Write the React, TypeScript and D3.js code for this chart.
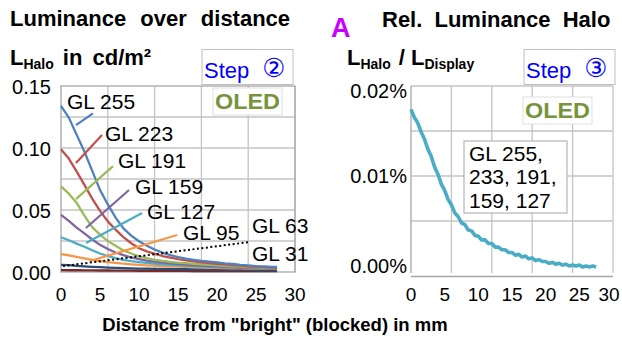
import { useRef, useEffect } from "react";
import * as d3 from "d3";

// distance in mm (left chart sampled every mm, right chart every 0.5 mm)
const distLeft = [0, 1, 2, 3, 4, 5, 6, 7, 8, 9, 10, 11, 12, 13, 14, 15, 16, 17, 18, 19, 20, 21, 22, 23, 24, 25, 26, 27, 27.7];

const gl255 = [0.134, 0.1245, 0.1108, 0.0972, 0.0815, 0.0662, 0.0545, 0.0438, 0.0352, 0.0293, 0.0248, 0.0212, 0.0181, 0.0156, 0.0136, 0.0121, 0.0107, 0.0098, 0.0089, 0.0083, 0.0077, 0.0069, 0.0065, 0.0058, 0.0054, 0.0048, 0.0046, 0.0042, 0.0041];
const gl223 = [0.099, 0.0915, 0.0812, 0.0703, 0.0592, 0.0493, 0.0408, 0.0342, 0.0281, 0.0232, 0.0192, 0.0166, 0.0146, 0.0129, 0.0116, 0.0103, 0.0094, 0.0085, 0.0078, 0.0071, 0.0066, 0.0061, 0.0055, 0.0051, 0.0046, 0.0043, 0.0039, 0.0036, 0.0035];
const gl191 = [0.069, 0.0632, 0.0558, 0.0455, 0.0362, 0.0301, 0.0249, 0.0212, 0.0174, 0.0149, 0.0126, 0.0111, 0.0098, 0.0089, 0.0082, 0.0075, 0.0071, 0.0065, 0.0062, 0.0057, 0.0054, 0.0049, 0.0046, 0.0043, 0.004, 0.0037, 0.0034, 0.0032, 0.0031];
const gl159 = [0.046, 0.0412, 0.0358, 0.0311, 0.0262, 0.0219, 0.0186, 0.0157, 0.0136, 0.0117, 0.0104, 0.0092, 0.0083, 0.0076, 0.007, 0.0065, 0.006, 0.0056, 0.0052, 0.0048, 0.0045, 0.0042, 0.0039, 0.0036, 0.0033, 0.0031, 0.0029, 0.0027, 0.0027];
const gl127 = [0.028, 0.0256, 0.0229, 0.0204, 0.0176, 0.0149, 0.0129, 0.0112, 0.0098, 0.0088, 0.008, 0.0073, 0.0067, 0.0062, 0.0058, 0.0054, 0.0051, 0.0048, 0.0045, 0.0042, 0.004, 0.0037, 0.0035, 0.0033, 0.0031, 0.0029, 0.0027, 0.0026, 0.0025];
const gl95 = [0.0145, 0.0135, 0.0122, 0.011, 0.0098, 0.0088, 0.008, 0.0073, 0.0067, 0.0062, 0.0058, 0.0054, 0.0051, 0.0048, 0.0046, 0.0044, 0.0042, 0.004, 0.0038, 0.0036, 0.0034, 0.0032, 0.003, 0.0029, 0.0028, 0.0027, 0.0026, 0.0025, 0.0025];
const gl63 = [0.0058, 0.0055, 0.005, 0.0046, 0.0042, 0.0039, 0.0036, 0.0034, 0.0032, 0.003, 0.0028, 0.0027, 0.0026, 0.0025, 0.0024, 0.0023, 0.0022, 0.0021, 0.002, 0.0019, 0.0019, 0.0018, 0.0018, 0.0017, 0.0017, 0.0016, 0.0016, 0.0016, 0.0016];
const gl31 = [0.0015, 0.0014, 0.0014, 0.0013, 0.0013, 0.0012, 0.0012, 0.0011, 0.0011, 0.0011, 0.001, 0.001, 0.001, 0.0009, 0.0009, 0.0009, 0.0009, 0.0008, 0.0008, 0.0008, 0.0008, 0.0008, 0.0007, 0.0007, 0.0007, 0.0007, 0.0007, 0.0007, 0.0007];

const seriesNames = ["GL 255", "GL 223", "GL 191", "GL 159", "GL 127", "GL 95", "GL 63", "GL 31"];
const seriesValues = [gl255, gl223, gl191, gl159, gl127, gl95, gl63, gl31];
const seriesColors = ["#4f81bd", "#c0504d", "#9bbb59", "#8064a2", "#4bacc6", "#f79646", "#2c4d75", "#772c2a"];

// label anchor (left x, middle y) and leader line ends, in data units
const labelPos = [[0.77, 0.1378], [5.64, 0.112], [7.31, 0.0903], [9.49, 0.0693], [11.03, 0.0484], [15.64, 0.0322], [24.49, 0.0379], [24.49, 0.0153]];
const leaders = [
  [[1.92, 0.1185], [4.1, 0.128]],
  [[1.92, 0.0879], [5.26, 0.1104]],
  [[1.92, 0.0588], [6.67, 0.0854]],
  [[3.2, 0.0355], [8.72, 0.0661]],
  [[3.2, 0.0234], [10.4, 0.0476]],
  [[3.72, 0.0089], [14.9, 0.0298]],
  [[0.26, 0.0048], [24.2, 0.0242]],
];

// relative halo in %
const distRight = [0, 0.5, 1, 1.5, 2, 2.5, 3, 3.5, 4, 4.5, 5, 5.5, 6, 6.5, 7, 7.5, 8, 8.5, 9, 9.5, 10, 10.5, 11, 11.5, 12, 12.5, 13, 13.5, 14, 14.5, 15, 15.5, 16, 16.5, 17, 17.5, 18, 18.5, 19, 19.5, 20, 20.5, 21, 21.5, 22, 22.5, 23, 23.5, 24, 24.5, 25, 25.5, 26, 26.5, 27, 27.5];
const relHalo = [0.0174, 0.0165, 0.0159, 0.0149, 0.0141, 0.013, 0.0122, 0.011, 0.0102, 0.0091, 0.0084, 0.0074, 0.0068, 0.0059, 0.0055, 0.0048, 0.0046, 0.004, 0.0039, 0.0034, 0.0033, 0.0029, 0.0029, 0.0025, 0.0025, 0.0021, 0.0021, 0.0018, 0.0018, 0.0015, 0.0015, 0.0012, 0.0013, 0.001, 0.0011, 0.0008, 0.0009, 0.0006, 0.0007, 0.0005, 0.0005, 0.0003, 0.0004, 0.0002, 0.0003, 0.0001, 0.0002, 0, 0.0001, 0, 0.0001, -0.0001, 0, -0.0001, 0, -0.0001];
const relLabel = ["GL 255,", "233, 191,", "159, 127"];

const xTicks = [0, 5, 10, 15, 20, 25, 30];
const xGrid = [6, 12, 18, 24, 30];
const yTicksLeft = [0, 0.05, 0.1, 0.15];
const yGridLeft = [0.025, 0.05, 0.075, 0.1, 0.125];
const yTicksRight = [0, 0.01, 0.02];
const yGridRight = [0.005, 0.01, 0.015];

const FONT = "'Liberation Sans', Arial, sans-serif";

export default function App() {
  const svgRef = useRef(null);

  useEffect(() => {
    const svg = d3.select(svgRef.current);
    svg.selectAll("*").remove();
    svg.attr("font-family", FONT);

    const grid = "#c4c4c4";
    const border = "#a6a6a6";

    // ---------- left chart ----------
    const x1 = d3.scaleLinear().domain([0, 30]).range([61, 295]);
    const y1 = d3.scaleLinear().domain([0, 0.15]).range([272, 86]);

    const g1 = svg.append("g");
    g1.selectAll(".vg").data(xGrid).join("line")
      .attr("x1", (d) => x1(d)).attr("x2", (d) => x1(d))
      .attr("y1", y1(0.15)).attr("y2", y1(0))
      .attr("stroke", grid).attr("stroke-width", 1.3);
    g1.selectAll(".hg").data(yGridLeft).join("line")
      .attr("x1", x1(0)).attr("x2", x1(30))
      .attr("y1", (d) => y1(d)).attr("y2", (d) => y1(d))
      .attr("stroke", grid).attr("stroke-width", 1.3);
    g1.append("rect")
      .attr("x", x1(0)).attr("y", y1(0.15))
      .attr("width", x1(30) - x1(0)).attr("height", y1(0) - y1(0.15))
      .attr("fill", "none").attr("stroke", border).attr("stroke-width", 1.3);

    const line1 = d3.line().x((d) => x1(d[0])).y((d) => y1(d[1]));
    const order = [7, 6, 5, 4, 3, 2, 1, 0];
    order.forEach((i) => {
      g1.append("path")
        .datum(distLeft.map((d, k) => [d, seriesValues[i][k]]))
        .attr("d", line1)
        .attr("fill", "none")
        .attr("stroke", seriesColors[i])
        .attr("stroke-width", 2.3)
        .attr("stroke-linejoin", "round");
    });

    leaders.forEach((l, i) => {
      g1.append("line")
        .attr("x1", x1(l[0][0])).attr("y1", y1(l[0][1]))
        .attr("x2", x1(l[1][0])).attr("y2", y1(l[1][1]))
        .attr("stroke", i === 6 ? "#000" : seriesColors[i])
        .attr("stroke-width", i === 6 ? 2 : 2.2)
        .attr("stroke-dasharray", i === 6 ? "2,2.5" : null);
    });

    g1.selectAll(".lbl").data(seriesNames).join("text")
      .attr("x", (_, i) => x1(labelPos[i][0]))
      .attr("y", (_, i) => y1(labelPos[i][1]) + 7.5)
      .attr("font-size", 21)
      .attr("fill", "#000")
      .text((d) => d);

    g1.selectAll(".yt").data(yTicksLeft).join("text")
      .attr("x", 51).attr("y", (d) => y1(d) + 7.5)
      .attr("text-anchor", "end").attr("font-size", 20)
      .text((d) => d3.format(".2f")(d));
    g1.selectAll(".xt").data(xTicks).join("text")
      .attr("x", (d) => x1(d)).attr("y", 301)
      .attr("text-anchor", "middle").attr("font-size", 19)
      .text((d) => d);

    // ---------- right chart ----------
    const x2 = d3.scaleLinear().domain([0, 30]).range([411, 613]);
    const y2 = d3.scaleLinear().domain([0, 0.02]).range([266, 86]);
    const g2 = svg.append("g");
    g2.selectAll(".vg").data(xGrid).join("line")
      .attr("x1", (d) => x2(d)).attr("x2", (d) => x2(d))
      .attr("y1", y2(0.02)).attr("y2", 273)
      .attr("stroke", grid).attr("stroke-width", 1.3);
    g2.selectAll(".hg").data(yGridRight.concat([0.02])).join("line")
      .attr("x1", x2(0)).attr("x2", x2(30))
      .attr("y1", (d) => y2(d)).attr("y2", (d) => y2(d))
      .attr("stroke", grid).attr("stroke-width", 1.3);
    g2.append("line")
      .attr("x1", x2(0)).attr("x2", x2(0)).attr("y1", y2(0.02)).attr("y2", 273)
      .attr("stroke", border).attr("stroke-width", 1.3);
    g2.append("line")
      .attr("x1", x2(0)).attr("x2", x2(30)).attr("y1", 276.5).attr("y2", 276.5)
      .attr("stroke", border).attr("stroke-width", 1.3);

    const line2 = d3.line().x((d) => x2(d[0])).y((d) => y2(d[1]));
    g2.append("path")
      .datum(distRight.map((d, k) => [d, relHalo[k]]))
      .attr("d", line2)
      .attr("fill", "none")
      .attr("stroke", "#4bacc6")
      .attr("stroke-width", 3.6)
      .attr("stroke-linejoin", "round");

    g2.append("rect")
      .attr("x", 464).attr("y", 141).attr("width", 103).attr("height", 72)
      .attr("fill", "#fff").attr("stroke", border).attr("stroke-width", 1);
    g2.selectAll(".rl").data(relLabel).join("text")
      .attr("x", 469).attr("y", (_, i) => 160.5 + i * 23.5)
      .attr("font-size", 21)
      .text((d) => d);

    g2.selectAll(".yt").data(yTicksRight).join("text")
      .attr("x", 407).attr("y", (d) => Math.max(y2(d) + 7, 98))
      .attr("text-anchor", "end").attr("font-size", 20)
      .text((d) => d3.format(".2f")(d) + "%");
    g2.selectAll(".xt").data(xTicks).join("text")
      .attr("x", (d) => Math.min(x2(d), 609))
      .attr("y", 301)
      .attr("text-anchor", "middle").attr("font-size", 19)
      .text((d) => d);

    // ---------- boxes and titles ----------
    const stepBox = (x, label) => {
      svg.append("rect")
        .attr("x", x).attr("y", 49.5).attr("width", 91).attr("height", 35)
        .attr("fill", "#fff").attr("stroke", "#bfbfbf").attr("stroke-width", 1);
      svg.append("text")
        .attr("x", x + 2).attr("y", 78).attr("font-size", 22).attr("fill", "#0000ff")
        .text("Step");
      svg.append("text")
        .attr("x", x + 72).attr("y", 77).attr("font-size", 26).attr("fill", "#0000ff")
        .attr("text-anchor", "middle")
        .attr("font-family", "'DejaVu Sans', sans-serif")
        .text(label);
    };
    stepBox(202, "②");
    stepBox(524, "③");

    const oledBox = (x, y) => {
      svg.append("rect")
        .attr("x", x).attr("y", y).attr("width", 69).attr("height", 27)
        .attr("fill", "#fff").attr("stroke", "#e0e0e0").attr("stroke-width", 1);
      svg.append("text")
        .attr("x", x + 34.5).attr("y", y + 21).attr("font-size", 22)
        .attr("font-weight", "bold").attr("fill", "#77933c")
        .attr("text-anchor", "middle")
        .attr("textLength", 65).attr("lengthAdjust", "spacingAndGlyphs")
        .text("OLED");
    };
    oledBox(213, 88);
    oledBox(523, 97);

    svg.append("text")
      .attr("x", 10).attr("y", 26).attr("font-size", 22).attr("font-weight", "bold")
      .attr("word-spacing", 8)
      .text("Luminance over distance");
    svg.append("text")
      .attr("x", 382).attr("y", 27).attr("font-size", 22).attr("font-weight", "bold")
      .attr("word-spacing", 6)
      .text("Rel. Luminance Halo");
    svg.append("text")
      .attr("x", 331).attr("y", 37).attr("font-size", 27).attr("font-weight", "bold")
      .attr("fill", "#cc00ff")
      .text("A");

    const yTitle1 = svg.append("text")
      .attr("x", 10).attr("y", 65).attr("font-size", 22).attr("font-weight", "bold");
    yTitle1.append("tspan").text("L");
    yTitle1.append("tspan").attr("dy", 4).attr("font-size", 14).text("Halo");
    yTitle1.append("tspan").attr("dy", -4).attr("dx", 9).attr("word-spacing", 4).text("in cd/m²");

    const yTitle2 = svg.append("text")
      .attr("x", 347).attr("y", 65).attr("font-size", 22).attr("font-weight", "bold");
    yTitle2.append("tspan").text("L");
    yTitle2.append("tspan").attr("dy", 4).attr("font-size", 14).text("Halo");
    yTitle2.append("tspan").attr("dy", -4).attr("dx", 8).text("/");
    yTitle2.append("tspan").attr("dx", 6).text("L");
    yTitle2.append("tspan").attr("dy", 4).attr("font-size", 14).text("Display");

    svg.append("text")
      .attr("x", 275).attr("y", 331).attr("font-size", 18.5).attr("font-weight", "bold")
      .attr("text-anchor", "middle")
      .text('Distance from "bright" (blocked) in mm');
  }, []);

  return (
    <svg
      ref={svgRef}
      width={622}
      height={337}
      style={{ position: "absolute", left: 0, top: 0, background: "#fff" }}
    />
  );
}
